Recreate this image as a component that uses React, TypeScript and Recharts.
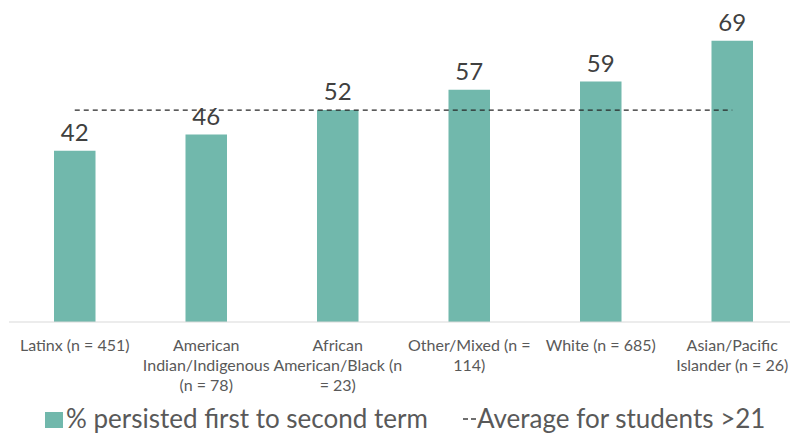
import React from 'react';
import { Bar, ComposedChart, LabelList, Line, XAxis, YAxis } from 'recharts';

const categories = [
  'Latinx (n = 451)',
  'American Indian/Indigenous (n = 78)',
  'African American/Black (n = 23)',
  'Other/Mixed (n = 114)',
  'White (n = 685)',
  'Asian/Pacific Islander (n = 26)',
];

// wrapped the way the original axis breaks them
const tickLines = [
  ['Latinx (n = 451)'],
  ['American', 'Indian/Indigenous', '(n = 78)'],
  ['African', 'American/Black (n', '= 23)'],
  ['Other/Mixed (n =', '114)'],
  ['White (n = 685)'],
  ['Asian/Pacific', 'Islander (n = 26)'],
];

const persisted = [42, 46, 52, 57, 59, 69];
const average = [52, 52, 52, 52, 52, 52];

const barLabel = '% persisted first to second term';
const lineLabel = 'Average for students >21';

const data = categories.map((name, i) => ({
  name,
  persisted: persisted[i],
  average: average[i],
}));

const BAR_COLOR = '#71B8AC';
const FONT = 'Lato, "Open Sans", sans-serif';

const CategoryTick = (props: any) => {
  const { x, y, payload } = props;
  const lines = tickLines[payload.index] || [String(payload.value)];
  return (
    <text x={x} y={y} textAnchor='middle' fill='#595959' fontSize={16} fontFamily={FONT}>
      {lines.map((line, i) => (
        <tspan key={i} x={x} y={y + 21 + i * 20}>
          {line}
        </tspan>
      ))}
    </text>
  );
};

const ValueLabel = (props: any) => {
  const { x, y, width, value } = props;
  return (
    <text
      x={x + width / 2}
      y={y - 10}
      textAnchor='middle'
      fill='#404040'
      fontSize={24}
      fontFamily={FONT}
    >
      {value}
    </text>
  );
};

const legendText: React.CSSProperties = {
  position: 'absolute',
  top: 405,
  height: 26,
  lineHeight: '26px',
  fontSize: 26,
  color: '#595959',
  whiteSpace: 'nowrap',
};

export default function App() {
  return (
    <div
      style={{
        position: 'absolute',
        left: 0,
        top: 0,
        width: 790,
        height: 436,
        overflow: 'hidden',
        background: '#fff',
        fontFamily: FONT,
      }}
    >
      <ComposedChart
        width={798}
        height={436}
        data={data}
        margin={{ top: 0, right: 0, bottom: 84, left: 9 }}
      >
        <XAxis
          dataKey='name'
          axisLine={{ stroke: '#d9d9d9', strokeWidth: 1 }}
          tickLine={false}
          interval={0}
          tick={<CategoryTick />}
        />
        <YAxis hide domain={[0, 79]} />
        <Bar dataKey='persisted' fill={BAR_COLOR} barSize={41.5} isAnimationActive={false}>
          <LabelList dataKey='persisted' content={<ValueLabel />} />
        </Bar>
        <Line
          dataKey='average'
          stroke='#262626'
          strokeWidth={1.3}
          strokeDasharray='5 4'
          dot={false}
          activeDot={false}
          isAnimationActive={false}
        />
      </ComposedChart>

      <div
        style={{
          position: 'absolute',
          left: 45,
          top: 412,
          width: 18,
          height: 16,
          background: BAR_COLOR,
        }}
      />
      <div style={{ ...legendText, left: 66 }}>{barLabel}</div>
      <svg style={{ position: 'absolute', left: 463, top: 414 }} width={13} height={10}>
        <line x1={0} y1={5} x2={13} y2={5} stroke='#404040' strokeWidth={1.3} strokeDasharray='5 3' />
      </svg>
      <div style={{ ...legendText, left: 477 }}>{lineLabel}</div>
    </div>
  );
}
